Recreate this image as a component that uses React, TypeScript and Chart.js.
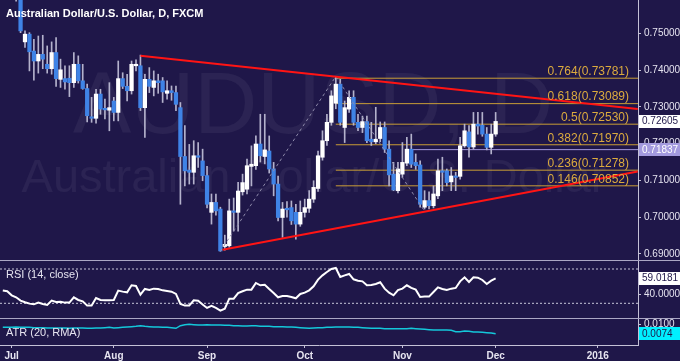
import React, { useEffect, useRef } from 'react';
import { Chart, registerables } from 'chart.js';

Chart.register(...registerables);

// ---------------- data ----------------
const MONTH_TICK_INDEX = [2, 25, 46, 68, 90, 111, 134];
const MONTH_TICK_LABELS = ['Jul', 'Aug', 'Sep', 'Oct', 'Nov', 'Dec', '2016'];

const OPEN = [
  0.7700, 0.7680, 0.7700, 0.7620, 0.7625, 0.7477, 0.7498, 0.7452, 0.7425, 0.7443,
  0.7416, 0.7404, 0.7448, 0.7375, 0.7377, 0.7378, 0.7366, 0.7416, 0.7371, 0.7350,
  0.7272, 0.7269, 0.7335, 0.7296, 0.7291, 0.7316, 0.7285, 0.7377, 0.7356, 0.7344,
  0.7412, 0.7412, 0.7298, 0.7375, 0.7353, 0.7371, 0.7371, 0.7337, 0.7344, 0.7339,
  0.7298, 0.7165, 0.7128, 0.7122, 0.7167, 0.7153, 0.7113, 0.7013, 0.7040, 0.7022,
  0.6920, 0.6922, 0.7017, 0.7013, 0.7069, 0.7076, 0.7138, 0.7140, 0.7199, 0.7165,
  0.7180, 0.7131, 0.7090, 0.6999, 0.7024, 0.7026, 0.7013, 0.6981, 0.7013, 0.7024,
  0.7049, 0.7078, 0.7163, 0.7208, 0.7258, 0.7310, 0.7362, 0.7244, 0.7294, 0.7326,
  0.7258, 0.7244, 0.7260, 0.7212, 0.7205, 0.7214, 0.7244, 0.7185, 0.7117, 0.7072,
  0.7117, 0.7147, 0.7185, 0.7149, 0.7142, 0.7027, 0.7045, 0.7031, 0.7058, 0.7126,
  0.7126, 0.7096, 0.7112, 0.7111, 0.7194, 0.7232, 0.7191, 0.7253, 0.7250, 0.7226,
  0.7190, 0.7226,
];
const HIGH = [
  0.7730, 0.7720, 0.7715, 0.7670, 0.7645, 0.7507, 0.7502, 0.7484, 0.7493, 0.7495,
  0.7466, 0.7477, 0.7489, 0.7430, 0.7412, 0.7412, 0.7448, 0.7439, 0.7416, 0.7362,
  0.7326, 0.7348, 0.7348, 0.7321, 0.7366, 0.7326, 0.7425, 0.7393, 0.7389, 0.7425,
  0.7428, 0.7441, 0.7389, 0.7407, 0.7398, 0.7389, 0.7380, 0.7371, 0.7357, 0.7357,
  0.7312, 0.7249, 0.7198, 0.7208, 0.7203, 0.7185, 0.7138, 0.7063, 0.7063, 0.7027,
  0.6951, 0.7049, 0.7052, 0.7095, 0.7117, 0.7158, 0.7194, 0.7221, 0.7280, 0.7280,
  0.7221, 0.7149, 0.7112, 0.7040, 0.7042, 0.7044, 0.7035, 0.7044, 0.7049, 0.7072,
  0.7099, 0.7180, 0.7235, 0.7280, 0.7344, 0.7383, 0.7375, 0.7316, 0.7344, 0.7344,
  0.7280, 0.7275, 0.7275, 0.7258, 0.7299, 0.7259, 0.7259, 0.7208, 0.7149, 0.7149,
  0.7203, 0.7217, 0.7226, 0.7172, 0.7153, 0.7072, 0.7069, 0.7085, 0.7158, 0.7163,
  0.7131, 0.7135, 0.7122, 0.7217, 0.7253, 0.7249, 0.7285, 0.7285, 0.7285, 0.7244,
  0.7253, 0.7285,
];
const LOW = [
  0.7640, 0.7645, 0.7625, 0.7588, 0.7502, 0.7462, 0.7398, 0.7373, 0.7392, 0.7404,
  0.7392, 0.7389, 0.7356, 0.7353, 0.7348, 0.7328, 0.7353, 0.7365, 0.7348, 0.7259,
  0.7258, 0.7256, 0.7280, 0.7267, 0.7235, 0.7262, 0.7262, 0.7350, 0.7316, 0.7335,
  0.7398, 0.7290, 0.7217, 0.7339, 0.7330, 0.7337, 0.7312, 0.7321, 0.7318, 0.7290,
  0.7035, 0.7085, 0.7090, 0.7090, 0.7135, 0.7099, 0.7025, 0.6981, 0.7005, 0.6907,
  0.6910, 0.6918, 0.6962, 0.6962, 0.7060, 0.7063, 0.7085, 0.7130, 0.7150, 0.7145,
  0.7120, 0.7058, 0.6990, 0.6945, 0.7000, 0.6980, 0.6940, 0.6975, 0.7000, 0.7013,
  0.7040, 0.7070, 0.7155, 0.7195, 0.7250, 0.7295, 0.7250, 0.7203, 0.7285, 0.7250,
  0.7235, 0.7230, 0.7203, 0.7195, 0.7200, 0.7205, 0.7176, 0.7085, 0.7072, 0.7066,
  0.7108, 0.7140, 0.7135, 0.7130, 0.7027, 0.7022, 0.7022, 0.7025, 0.7050, 0.7072,
  0.7085, 0.7072, 0.7072, 0.7103, 0.7190, 0.7163, 0.7185, 0.7226, 0.7220, 0.7183,
  0.7172, 0.7220,
];
const CLOSE = [
  0.7680, 0.7700, 0.7650, 0.7650, 0.7507, 0.7498, 0.7450, 0.7425, 0.7443, 0.7430,
  0.7404, 0.7448, 0.7377, 0.7401, 0.7368, 0.7366, 0.7416, 0.7371, 0.7350, 0.7276,
  0.7269, 0.7335, 0.7294, 0.7292, 0.7298, 0.7285, 0.7377, 0.7356, 0.7344, 0.7416,
  0.7416, 0.7298, 0.7375, 0.7356, 0.7371, 0.7366, 0.7341, 0.7344, 0.7339, 0.7307,
  0.7165, 0.7126, 0.7122, 0.7167, 0.7163, 0.7113, 0.7035, 0.7040, 0.7017, 0.6908,
  0.6926, 0.7017, 0.7013, 0.7071, 0.7094, 0.7140, 0.7144, 0.7199, 0.7167, 0.7183,
  0.7131, 0.7090, 0.6999, 0.7022, 0.7020, 0.6990, 0.6981, 0.7013, 0.7026, 0.7049,
  0.7081, 0.7167, 0.7208, 0.7258, 0.7330, 0.7362, 0.7258, 0.7298, 0.7326, 0.7258,
  0.7244, 0.7260, 0.7208, 0.7205, 0.7212, 0.7244, 0.7185, 0.7115, 0.7074, 0.7131,
  0.7149, 0.7185, 0.7144, 0.7140, 0.7035, 0.7045, 0.7031, 0.7063, 0.7126, 0.7122,
  0.7094, 0.7112, 0.7108, 0.7194, 0.7235, 0.7191, 0.7253, 0.7248, 0.7226, 0.7190,
  0.7226, 0.72605,
];
const RSI = [
  44.8, 44, 39.3, 37, 33.1, 31.2, 29.6, 28.8, 30.8, 29.2,
  28.1, 33.1, 31.6, 31.9, 30.8, 30.8, 37, 33.9, 32.3, 27.3,
  27.3, 36.2, 33.9, 33.5, 33.5, 33.9, 44.8, 43.6, 42.8, 51,
  50.2, 40.1, 46.7, 45.5, 47.1, 46.7, 45.1, 44.4, 43.6, 40.9,
  29.2, 27.3, 27.3, 33.5, 33.1, 28.5, 24.6, 26.9, 24.6, 21.5,
  23.8, 35.4, 35.4, 42, 44, 45.9, 45.9, 53.7, 51, 51.7,
  46.7, 42, 37, 38.5, 38.5, 37.4, 35.8, 40.9, 42.4, 45.1,
  49.8, 57.6, 62.6, 66.5, 70, 71.2, 60.7, 62.6, 64.2, 58,
  56.4, 55.6, 51, 51.4, 52.5, 54.5, 47.1, 42.4, 39.3, 45.5,
  47.1, 51, 47.9, 45.9, 37.4, 37.8, 37.8, 43.2, 48.6, 46.7,
  45.5, 47.1, 47.9, 55.6, 60.3, 54.9, 60.3, 59.9, 57.2, 52.5,
  56.4, 59.0181,
];
const ATR = [
  0.00924, 0.00924, 0.00924, 0.00934, 0.00924, 0.00924, 0.00924, 0.00914, 0.00914, 0.00914,
  0.00905, 0.00905, 0.00905, 0.00905, 0.00905, 0.00895, 0.00905, 0.00905, 0.00905, 0.00895,
  0.00895, 0.00905, 0.00905, 0.00914, 0.00924, 0.00905, 0.00914, 0.00924, 0.00934, 0.00943,
  0.00953, 0.00972, 0.00953, 0.00943, 0.00934, 0.00934, 0.00924, 0.00924, 0.00914, 0.00895,
  0.00972, 0.01001, 0.01011, 0.01001, 0.00991, 0.00991, 0.01001, 0.00991, 0.00991, 0.00991,
  0.00982, 0.00982, 0.00972, 0.00972, 0.00962, 0.00962, 0.00972, 0.00972, 0.00953, 0.00953,
  0.00953, 0.00943, 0.00943, 0.00943, 0.00934, 0.00934, 0.00924, 0.00914, 0.00905, 0.00895,
  0.00905, 0.00914, 0.00914, 0.00924, 0.00924, 0.00934, 0.00934, 0.00934, 0.00934, 0.00924,
  0.00924, 0.00914, 0.00905, 0.00895, 0.00895, 0.00895, 0.00885, 0.00885, 0.00885, 0.00885,
  0.00885, 0.00885, 0.00895, 0.00885, 0.00876, 0.00866, 0.00857, 0.00847, 0.00847, 0.00847,
  0.00847, 0.00837, 0.00799, 0.00799, 0.00818, 0.00808, 0.00789, 0.00789, 0.00780, 0.00770,
  0.00760, 0.00741,
];

const PRICE_TICKS = [0.69, 0.7, 0.71, 0.72, 0.73, 0.74, 0.75];
const RSI_TICKS = [40];
const RSI_BANDS = [70, 30];
const ATR_TICKS = [0.01];

const FIB_RATIOS = ['0.764', '0.618', '0.5', '0.382', '0.236', '0.146'];
const FIB_PRICES = [0.73781, 0.73089, 0.7253, 0.7197, 0.71278, 0.70852];
const FIB_START_INDEX = 75;
const MARKER_PRICE = 0.71837;
const MARKER_START_INDEX = 92;
const UPPER_TREND_INDEX = [31, 143];
const UPPER_TREND_PRICE = [0.7439, 0.7294];
const LOWER_TREND_INDEX = [49.5, 143];
const LOWER_TREND_PRICE = [0.6911, 0.7124];
const SWING_INDEX = [49, 75, 95];
const SWING_PRICE = [0.6907, 0.7383, 0.7016];

const TITLE = 'Australian Dollar/U.S. Dollar, D, FXCM';
const WATERMARK_1 = 'AUDUSD, D';
const WATERMARK_2 = 'Australian Dollar/U.S. Dollar';
const RSI_LABEL = 'RSI (14, close)';
const ATR_LABEL = 'ATR (20, RMA)';

// ---------------- styles ----------------
const FONT = "'Liberation Sans', Arial, sans-serif";
const BG = '#1f1749';
const AXIS = '#c4c1d6';
const SEP = '#aba7c4';
const TEXT = '#e6e4f0';
const BULL = '#ffffff';
const BEAR = '#3f83e6';
const WICK = '#b4b2cc';
const RED = '#ff1414';
const GOLD = '#c99d36';
const GOLD_TEXT = '#dcab3e';
const LAVENDER = '#a39ade';
const CYAN = '#14c8da';
const CYAN_BOX = '#00f0ff';
const DASH = '#8f8bab';

const AXIS_W = 42;
const X_MIN = -0.63;
const X_MAX = 143.06;
const PRICE_MIN = 0.68833;
const PRICE_MAX = 0.7591;
const RSI_MIN = 12.86;
const RSI_MAX = 79.33;
const ATR_MIN = 0.004135;
const ATR_MAX = 0.011647;

const IDX = OPEN.map((_, i) => i);
const last = (a: number[]) => a[a.length - 1];

function fitSize(ctx: CanvasRenderingContext2D, text: string, width: number, weight: string) {
  ctx.font = `${weight} 100px ${FONT}`;
  return (100 * width) / ctx.measureText(text).width;
}

function drawBox(ctx: CanvasRenderingContext2D, x0: number, x1: number, yc: number, text: string, fill: string, color: string) {
  const h = 13;
  ctx.fillStyle = fill;
  ctx.fillRect(x0 + 1, Math.round(yc - h / 2), x1 - x0 - 1, h);
  ctx.fillStyle = color;
  ctx.font = `10px ${FONT}`;
  ctx.textAlign = 'left';
  ctx.textBaseline = 'middle';
  ctx.fillText(text, x0 + 4, Math.round(yc) + 0.5);
}

function yAxis(min: number, max: number, ticks: number[], digits: number) {
  return {
    type: 'linear',
    position: 'right',
    min,
    max,
    afterBuildTicks: (s: any) => {
      s.ticks = ticks.map((v) => ({ value: v }));
    },
    afterFit: (s: any) => {
      s.width = AXIS_W;
      s.paddingTop = 0;
      s.paddingBottom = 0;
    },
    ticks: {
      color: TEXT,
      font: { family: FONT, size: 10 },
      padding: 3,
      autoSkip: false,
      callback: (v: any) => Number(v).toFixed(digits),
    },
    grid: { drawOnChartArea: false, drawTicks: true, tickLength: 3, color: AXIS },
    border: { display: true, color: AXIS, width: 1 },
  };
}

function xAxis(display: boolean) {
  return {
    type: 'linear',
    min: X_MIN,
    max: X_MAX,
    offset: false,
    display,
    afterBuildTicks: (s: any) => {
      s.ticks = MONTH_TICK_INDEX.map((v) => ({ value: v }));
    },
    afterFit: (s: any) => {
      s.height = display ? 16 : 0;
      s.paddingLeft = 0;
      s.paddingRight = 0;
    },
    ticks: {
      autoSkip: false,
      maxRotation: 0,
      minRotation: 0,
      color: TEXT,
      font: { family: FONT, size: 10, weight: 'bold' },
      padding: 2,
      callback: (_v: any, i: number) => MONTH_TICK_LABELS[i],
    },
    grid: { offset: false, drawOnChartArea: false, drawTicks: true, tickLength: 3, color: AXIS },
    border: { display: true, color: AXIS, width: 1 },
  };
}

const baseOptions = {
  responsive: false,
  animation: false,
  events: [],
  layout: { padding: 0, autoPadding: false },
  plugins: { legend: { display: false }, tooltip: { enabled: false } },
};

function lineSet(xs: number[], ys: number[], color: string, width: number, order: number, dash: number[] = []) {
  return {
    type: 'line',
    data: xs.map((x, i) => ({ x, y: ys[i] })),
    borderColor: color,
    borderWidth: width,
    borderDash: dash,
    pointRadius: 0,
    tension: 0,
    order,
  };
}

const mainDecor = {
  id: 'mainDecor',
  beforeDatasetsDraw(chart: any) {
    const { ctx, chartArea: a } = chart;
    ctx.save();
    ctx.beginPath();
    ctx.rect(a.left, a.top, a.width, a.height);
    ctx.clip();
    ctx.fillStyle = 'rgba(255,255,255,0.055)';
    ctx.textAlign = 'center';
    ctx.textBaseline = 'alphabetic';
    let s = fitSize(ctx, WATERMARK_1, 480, 'normal');
    ctx.font = `normal ${s}px ${FONT}`;
    ctx.fillText(WATERMARK_1, 313, 133);
    s = fitSize(ctx, WATERMARK_2, 585, 'normal');
    ctx.font = `normal ${s}px ${FONT}`;
    ctx.fillText(WATERMARK_2, 314, 192);
    ctx.restore();
  },
  afterDatasetsDraw(chart: any) {
    const { ctx, chartArea: a, scales } = chart;
    ctx.save();
    ctx.fillStyle = GOLD_TEXT;
    ctx.font = `12px ${FONT}`;
    ctx.textAlign = 'right';
    ctx.textBaseline = 'middle';
    FIB_PRICES.forEach((p, i) => {
      const y = scales.y.getPixelForValue(p);
      ctx.fillText(`${FIB_RATIOS[i]}(${p.toFixed(5)})`, a.right - 9, y - 6.5);
    });
    ctx.restore();
  },
  afterDraw(chart: any) {
    const { ctx, chartArea: a, scales, width } = chart;
    ctx.save();
    drawBox(ctx, a.right, width, scales.y.getPixelForValue(last(CLOSE)), last(CLOSE).toFixed(5), '#ffffff', BG);
    drawBox(ctx, a.right, width, scales.y.getPixelForValue(MARKER_PRICE), MARKER_PRICE.toFixed(5), LAVENDER, '#ffffff');
    ctx.fillStyle = '#ffffff';
    ctx.font = `bold 11px ${FONT}`;
    ctx.textAlign = 'left';
    ctx.textBaseline = 'middle';
    ctx.fillText(TITLE, 6, 14);
    ctx.restore();
  },
};

const rsiDecor = {
  id: 'rsiDecor',
  afterDraw(chart: any) {
    const { ctx, chartArea: a, scales, width } = chart;
    ctx.save();
    ctx.fillStyle = TEXT;
    ctx.font = `11px ${FONT}`;
    ctx.textAlign = 'left';
    ctx.textBaseline = 'middle';
    ctx.fillText(RSI_LABEL, 6, 14);
    drawBox(ctx, a.right, width, scales.y.getPixelForValue(last(RSI)), last(RSI).toFixed(4), '#ffffff', BG);
    ctx.restore();
  },
};

const atrDecor = {
  id: 'atrDecor',
  afterDraw(chart: any) {
    const { ctx, chartArea: a, scales, width } = chart;
    ctx.save();
    ctx.fillStyle = TEXT;
    ctx.font = `11px ${FONT}`;
    ctx.textAlign = 'left';
    ctx.textBaseline = 'middle';
    ctx.fillText(ATR_LABEL, 6, 14);
    drawBox(ctx, a.right, width, scales.y.getPixelForValue(last(ATR)), last(ATR).toFixed(4), CYAN_BOX, BG);
    ctx.restore();
  },
};

function mainConfig(): any {
  const bodyColors = CLOSE.map((c, i) => (c >= OPEN[i] ? BULL : BEAR));
  const datasets: any[] = [
    {
      type: 'bar',
      data: IDX.map((i) => ({ x: i, y: [LOW[i], HIGH[i]] })),
      backgroundColor: WICK,
      borderWidth: 0,
      barThickness: 1,
      grouped: false,
      order: 4,
    },
    {
      type: 'bar',
      data: IDX.map((i) => ({ x: i, y: [Math.min(OPEN[i], CLOSE[i]), Math.max(OPEN[i], CLOSE[i])] })),
      backgroundColor: bodyColors,
      borderWidth: 0,
      barThickness: 3.6,
      minBarLength: 1.5,
      grouped: false,
      order: 3,
    },
    ...FIB_PRICES.map((p) => lineSet([FIB_START_INDEX, X_MAX], [p, p], GOLD, 1, 5)),
    lineSet([MARKER_START_INDEX, X_MAX], [MARKER_PRICE, MARKER_PRICE], LAVENDER, 1, 5),
    lineSet(SWING_INDEX, SWING_PRICE, DASH, 1, 2, [3, 3]),
    lineSet(UPPER_TREND_INDEX, UPPER_TREND_PRICE, RED, 2, 1),
    lineSet(LOWER_TREND_INDEX, LOWER_TREND_PRICE, RED, 2, 1),
  ];
  return {
    type: 'bar',
    data: { datasets },
    options: {
      ...baseOptions,
      scales: { x: xAxis(false), y: yAxis(PRICE_MIN, PRICE_MAX, PRICE_TICKS, 5) },
    },
    plugins: [mainDecor],
  };
}

function rsiConfig(): any {
  return {
    type: 'line',
    data: {
      datasets: [
        lineSet(IDX, RSI, '#ffffff', 2, 1),
        ...RSI_BANDS.map((b) => lineSet([X_MIN, X_MAX], [b, b], '#c8c6da', 1, 2, [2, 2])),
      ],
    },
    options: {
      ...baseOptions,
      scales: { x: xAxis(false), y: yAxis(RSI_MIN, RSI_MAX, RSI_TICKS, 4) },
    },
    plugins: [rsiDecor],
  };
}

function atrConfig(): any {
  return {
    type: 'line',
    data: { datasets: [lineSet(IDX, ATR, CYAN, 1.5, 1)] },
    options: {
      ...baseOptions,
      scales: { x: xAxis(true), y: yAxis(ATR_MIN, ATR_MAX, ATR_TICKS, 4) },
    },
    plugins: [atrDecor],
  };
}

export default function App() {
  const mainRef = useRef<HTMLCanvasElement>(null);
  const rsiRef = useRef<HTMLCanvasElement>(null);
  const atrRef = useRef<HTMLCanvasElement>(null);

  useEffect(() => {
    document.body.style.margin = '0';
    document.body.style.background = BG;
    const charts = [
      new Chart(mainRef.current as HTMLCanvasElement, mainConfig()),
      new Chart(rsiRef.current as HTMLCanvasElement, rsiConfig()),
      new Chart(atrRef.current as HTMLCanvasElement, atrConfig()),
    ];
    return () => charts.forEach((c) => c.destroy());
  }, []);

  const abs = (top: number, height: number): React.CSSProperties => ({
    position: 'absolute',
    left: 0,
    top,
    width: 680,
    height,
  });

  return (
    <div style={{ position: 'relative', width: 680, height: 361, background: BG, overflow: 'hidden' }}>
      <canvas ref={mainRef} width={680} height={260} style={abs(0, 260)} />
      <div style={{ ...abs(260, 1), background: SEP }} />
      <canvas ref={rsiRef} width={680} height={57} style={abs(261, 57)} />
      <div style={{ ...abs(318, 1), background: SEP }} />
      <canvas ref={atrRef} width={680} height={42} style={abs(319, 42)} />
    </div>
  );
}
